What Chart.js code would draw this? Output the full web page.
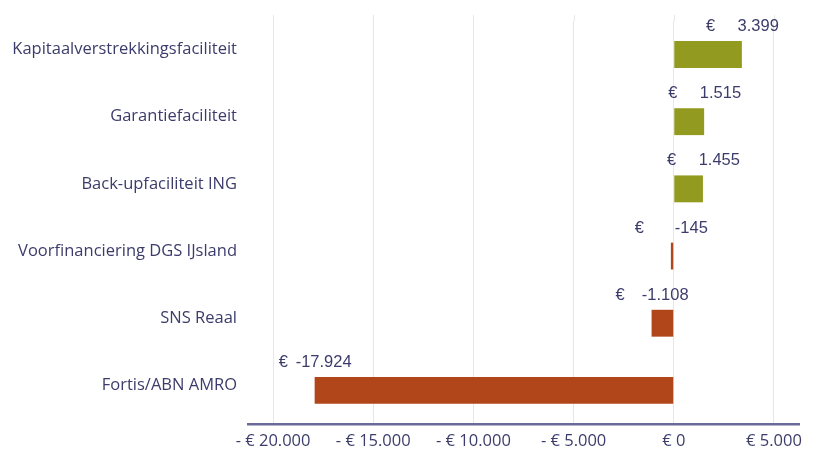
<!DOCTYPE html>
<html>
<head>
<meta charset="utf-8">
<script src="https://cdn.jsdelivr.net/npm/chart.js@4/dist/chart.umd.min.js"></script>
<style>
  html, body { margin: 0; padding: 0; background: #fff; }
  #wrap { width: 817px; height: 455px; }
</style>
</head>
<body>
<div id="wrap"><canvas id="chart"></canvas></div>
<script>
const categories = [
  'Kapitaalverstrekkingsfaciliteit',
  'Garantiefaciliteit',
  'Back-upfaciliteit ING',
  'Voorfinanciering DGS IJsland',
  'SNS Reaal',
  'Fortis/ABN AMRO',
]
const values = [3399, 1515, 1455, -145, -1108, -17924]
const tickValues = [-20000, -15000, -10000, -5000, 0, 5000]

const textColor = '#3c3c6c'
const gridColor = '#e6e6e6'
const positiveColor = '#929a1f'
const negativeColor = '#b2461b'

// 1234 -> "1.234"
function fmt(n) {
  const s = Math.abs(n).toString().replace(/\B(?=(\d{3})+(?!\d))/g, '.')
  return (n < 0 ? '-' : '') + s
}

// gridlines run a bit above the first category band
const gridTop = {
  id: 'gridTop',
  beforeDatasetsDraw(chart) {
    const ctx = chart.ctx
    const x = chart.scales.x
    ctx.save()
    ctx.strokeStyle = gridColor
    ctx.lineWidth = 1
    x.ticks.forEach((t) => {
      const px = Math.round(x.getPixelForValue(t.value)) + 0.5
      ctx.beginPath()
      ctx.moveTo(px, chart.chartArea.top - 6)
      ctx.lineTo(px, chart.chartArea.top)
      ctx.stroke()
    })
    ctx.restore()
  },
}

const barLabels = {
  id: 'barLabels',
  afterDatasetsDraw(chart) {
    const ctx = chart.ctx
    const meta = chart.getDatasetMeta(0)
    ctx.save()
    ctx.font = '16.5px "Liberation Sans", Arial, sans-serif'
    ctx.fillStyle = textColor
    ctx.textBaseline = 'alphabetic'
    meta.data.forEach((bar, i) => {
      const top = bar.y - bar.height / 2
      const y = top - 10
      ctx.textAlign = 'left'
      ctx.fillText('€', bar.x - 36, y)
      ctx.textAlign = 'right'
      ctx.fillText(fmt(values[i]), bar.x + 37, y)
    })
    ctx.restore()
  },
}

new Chart(document.getElementById('chart'), {
  type: 'bar',
  data: {
    labels: categories,
    datasets: [
      {
        data: values,
        backgroundColor: values.map((v) => (v >= 0 ? positiveColor : negativeColor)),
        borderWidth: 0,
        categoryPercentage: 1,
        barPercentage: 0.4,
      },
    ],
  },
  options: {
    indexAxis: 'y',
    responsive: true,
    maintainAspectRatio: false,
    animation: false,
    layout: { padding: { top: 16, right: 18, left: 0, bottom: 0 } },
    plugins: {
      legend: { display: false },
      tooltip: { enabled: false },
    },
    scales: {
      x: {
        min: -21250,
        max: 6250,
        afterBuildTicks: (scale) => {
          scale.ticks = tickValues.map((v) => ({ value: v }))
        },
        afterFit: (scale) => {
          scale.height = 31
        },
        grid: { color: gridColor, lineWidth: 1, drawTicks: false },
        border: { display: true, color: '#6a6a98', width: 2.5 },
        ticks: {
          color: textColor,
          padding: 7,
          font: { family: '"Open Sans", sans-serif', size: 16.5 },
          callback: (v) => (v < 0 ? '- € ' + fmt(-v) : '€ ' + fmt(v)),
        },
      },
      y: {
        afterFit: (scale) => {
          scale.width = 248
        },
        grid: { display: false, drawTicks: false },
        border: { display: false },
        ticks: {
          color: textColor,
          padding: 11,
          labelOffset: -5,
          font: { family: '"Open Sans", sans-serif', size: 16.5 },
        },
      },
    },
  },
  plugins: [gridTop, barLabels],
})
</script>
</body>
</html>
